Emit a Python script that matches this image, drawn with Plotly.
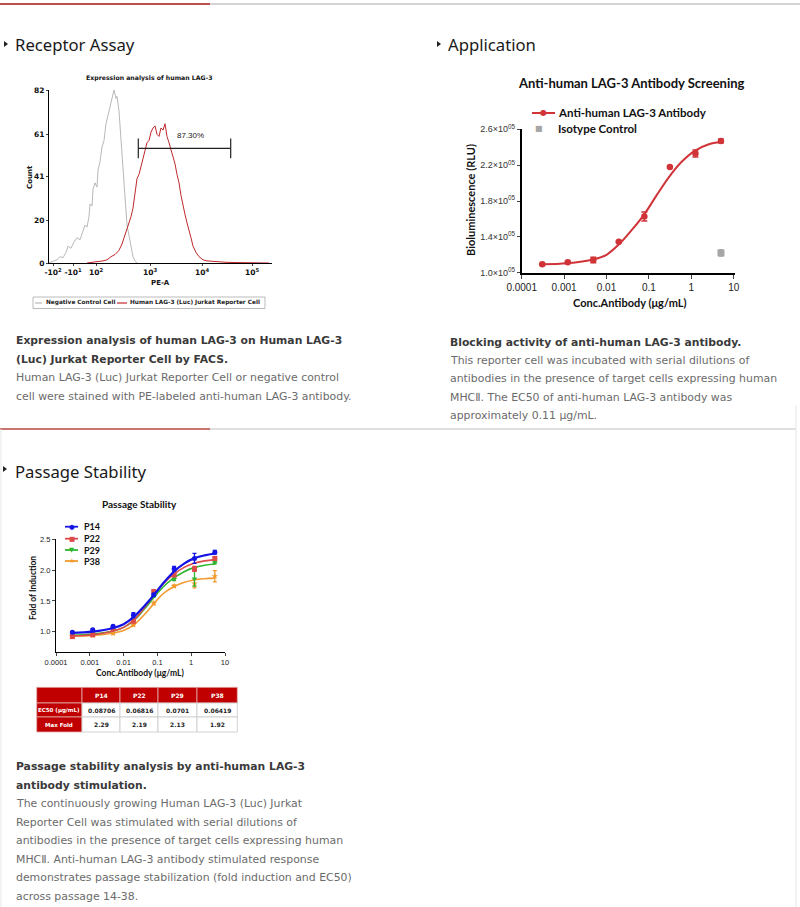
import plotly.graph_objects as go

W, H = 800, 907
def fx(x): return x / W
def fy(y): return 1 - y / H

# ---------------- Data ----------------
# Receptor assay histogram (PE-A display channel vs count)
pe_tick_vals = [4, 24, 47, 101, 153, 203]
pe_tick_text = ['-10<sup>2</sup>', '-10<sup>1</sup>', '10<sup>2</sup>', '10<sup>3</sup>', '10<sup>4</sup>', '10<sup>5</sup>']
count_ticks = [0, 20, 41, 61, 82]
neg_x = [0, 2, 5, 8, 11, 14, 17, 19, 22, 25, 28, 31, 34, 36, 38, 40, 41, 43, 44, 46, 48, 49, 51, 53, 55, 57,
         59, 60, 62, 64, 65, 67, 68, 70, 72, 74, 76, 78, 80, 82, 84, 86, 88]
neg_count = [0, 0.5, 1, 1.5, 3, 2.5, 5, 8, 7, 10, 12, 11, 15, 18, 17, 22, 28, 27, 35, 38, 36, 44, 48, 55, 58, 66,
             70, 72, 76, 80, 82, 78, 79, 72, 58, 42, 28, 18, 13, 7, 3, 1, 0]
pos_x = [38, 45, 50, 54, 58, 62, 66, 70, 73, 76, 78, 80, 82, 84, 86, 88, 90, 92, 94, 96, 98, 100, 102, 104, 106,
         108, 110, 112, 114, 116, 118, 120, 122, 124, 126, 128, 130, 132, 134, 136, 138, 140, 142, 144, 147, 150,
         154, 158, 163, 170, 178, 190, 205, 220]
pos_count = [0, 0.3, 0.5, 1, 1.5, 3, 4, 6, 9, 13, 16, 19, 22, 26, 33, 40, 42, 46, 50, 53, 57, 58, 62, 64, 65,
             61, 60, 64, 63, 66, 60, 57, 54, 51, 47, 42, 38, 32, 27, 23, 19, 16, 12, 8, 5, 3,
             1.5, 1, 0.8, 0.5, 0.3, 0.2, 0, 0]
gate_lo, gate_hi, gate_y, gate_cap = 89.3, 181.7, 54.3, 4.7
gate_pct = '87.30%'

# Application: blocking assay
conc = [0.000305, 0.00122, 0.00488, 0.0195, 0.078, 0.3125, 1.25, 5]
app_y = [1.094e5, 1.116e5, 1.142e5, 1.346e5, 1.626e5, 2.18e5, 2.33e5, 2.47e5]
app_err = [0.008e5, 0.008e5, 0.03e5, 0.01e5, 0.05e5, 0.01e5, 0.04e5, 0.02e5]
curve_x = [0.0003, 0.0012, 0.005, 0.01, 0.02, 0.04, 0.08, 0.15, 0.3, 0.6, 1.2, 2.5, 5]
app_curve = [1.094e5, 1.105e5, 1.15e5, 1.20e5, 1.32e5, 1.48e5, 1.66e5, 1.86e5, 2.07e5, 2.24e5, 2.36e5, 2.43e5, 2.46e5]
iso_x = [5]
iso_y = [1.22e5]
iso_err = [0.035e5]
conc_tick_vals = [0.0001, 0.001, 0.01, 0.1, 1, 10]
conc_tick_text = ['0.0001', '0.001', '0.01', '0.1', '1', '10']
rlu_tick_vals = [1.0e5, 1.4e5, 1.8e5, 2.2e5, 2.6e5]
rlu_tick_text = ['1.0×10<sup>05</sup>', '1.4×10<sup>05</sup>', '1.8×10<sup>05</sup>', '2.2×10<sup>05</sup>', '2.6×10<sup>05</sup>']

# Passage stability
passages = ['P14', 'P22', 'P29', 'P38']
p14 = [0.99, 1.03, 1.09, 1.27, 1.60, 2.02, 2.19, 2.29]
p22 = [0.92, 0.95, 1.05, 1.17, 1.65, 1.92, 2.02, 2.19]
p29 = [0.94, 0.97, 1.05, 1.20, 1.58, 1.85, 1.86, 2.12]
p38 = [0.93, 0.94, 0.97, 1.11, 1.46, 1.74, 1.78, 1.90]
p14_err = [0.01, 0.01, 0.01, 0.04, 0.02, 0.04, 0.08, 0.03]
p22_err = [0.01, 0.01, 0.01, 0.02, 0.03, 0.02, 0.04, 0.03]
p29_err = [0.01, 0.01, 0.01, 0.02, 0.02, 0.02, 0.12, 0.02]
p38_err = [0.01, 0.01, 0.01, 0.02, 0.02, 0.02, 0.07, 0.09]
p14_curve = [0.98, 1.00, 1.06, 1.12, 1.24, 1.41, 1.60, 1.79, 1.97, 2.10, 2.19, 2.24, 2.27]
p22_curve = [0.93, 0.95, 1.01, 1.07, 1.19, 1.38, 1.60, 1.78, 1.93, 2.04, 2.11, 2.15, 2.17]
p29_curve = [0.94, 0.96, 1.01, 1.07, 1.18, 1.36, 1.56, 1.73, 1.87, 1.97, 2.04, 2.08, 2.10]
p38_curve = [0.93, 0.94, 0.98, 1.02, 1.11, 1.27, 1.46, 1.62, 1.73, 1.80, 1.84, 1.86, 1.87]
fold_ticks = [1.0, 1.5, 2.0, 2.5]

# Table
tbl_header = ['', 'P14', 'P22', 'P29', 'P38']
tbl_rows = ['EC50 (μg/mL)', 'Max Fold']
ec50 = ['0.08706', '0.06816', '0.0701', '0.06419']
max_fold = ['2.29', '2.19', '2.13', '1.92']

# ---------------- Figure ----------------
fig = go.Figure()

HIST_RED = '#c0282d'
HIST_GRAY = '#b8b8b8'
fig.add_trace(go.Scatter(x=neg_x, y=neg_count, mode='lines', line=dict(color=HIST_GRAY, width=1),
                         xaxis='x', yaxis='y', showlegend=False, hoverinfo='skip'))
fig.add_trace(go.Scatter(x=pos_x, y=pos_count, mode='lines', line=dict(color=HIST_RED, width=1),
                         xaxis='x', yaxis='y', showlegend=False, hoverinfo='skip'))
fig.add_trace(go.Scatter(x=[gate_lo, gate_hi], y=[gate_y, gate_y], mode='lines', line=dict(color='#222', width=1.2),
                         xaxis='x', yaxis='y', showlegend=False, hoverinfo='skip'))
for gx in (gate_lo, gate_hi):
    fig.add_trace(go.Scatter(x=[gx, gx], y=[gate_y - gate_cap, gate_y + gate_cap], mode='lines',
                             line=dict(color='#222', width=1.2), xaxis='x', yaxis='y', showlegend=False,
                             hoverinfo='skip'))

APP_RED = '#d13438'
fig.add_trace(go.Scatter(x=curve_x, y=app_curve, mode='lines', line=dict(color=APP_RED, width=2, shape='spline'),
                         xaxis='x2', yaxis='y2', showlegend=False, hoverinfo='skip'))
fig.add_trace(go.Scatter(x=conc, y=app_y, mode='markers',
                         marker=dict(color=APP_RED, size=6.5),
                         error_y=dict(type='data', array=app_err, color=APP_RED, thickness=1.5, width=3),
                         xaxis='x2', yaxis='y2', showlegend=False, cliponaxis=False))
fig.add_trace(go.Scatter(x=iso_x, y=iso_y, mode='markers',
                         marker=dict(color='#a6a6a6', size=7, symbol='square'),
                         error_y=dict(type='data', array=iso_err, color='#a6a6a6', thickness=1.5, width=2),
                         xaxis='x2', yaxis='y2', showlegend=False, cliponaxis=False))

PCOL = ['#1414e6', '#dd4a4a', '#2fb52f', '#f39a2e']
PSYM = ['circle', 'square', 'triangle-down', 'star']
series = [(p14, p14_err, p14_curve), (p22, p22_err, p22_curve), (p29, p29_err, p29_curve), (p38, p38_err, p38_curve)]
for i in [3, 2, 1, 0]:
    vals, errs, cur = series[i]
    fig.add_trace(go.Scatter(x=curve_x, y=cur, mode='lines', line=dict(color=PCOL[i], width=1.6 if i else 2.2, shape='spline'),
                             xaxis='x3', yaxis='y3', showlegend=False, hoverinfo='skip'))
    fig.add_trace(go.Scatter(x=conc, y=vals, mode='markers', marker=dict(color=PCOL[i], size=5, symbol=PSYM[i]),
                             error_y=dict(type='data', array=errs, color=PCOL[i], thickness=1.3, width=2),
                             xaxis='x3', yaxis='y3', showlegend=False, cliponaxis=False, name=passages[i]))

axis_common = dict(showgrid=False, zeroline=False, showline=True, linecolor='black', ticks='outside')
fig.update_layout(
    width=W, height=H, margin=dict(l=0, r=0, t=0, b=0, pad=0, autoexpand=False),
    plot_bgcolor='white', paper_bgcolor='white', showlegend=False,
    xaxis=dict(axis_common, domain=[fx(49), fx(272)], range=[0, 223], anchor='y', linewidth=1.2, ticklen=2,
               tickvals=pe_tick_vals, ticktext=pe_tick_text,
               tickfont=dict(size=7.5, family='DejaVu Sans', color='#111', weight='bold')),
    yaxis=dict(axis_common, domain=[fy(263), fy(90)], range=[0, 82], anchor='x', linewidth=1.2, ticklen=2,
               tickvals=count_ticks, tickfont=dict(size=7.5, family='DejaVu Sans', color='#111', weight='bold')),
    xaxis2=dict(axis_common, type='log', domain=[fx(521.7), fx(735)], range=[-4, 1.03], anchor='y2', linewidth=1.6,
                ticklen=4, tickvals=conc_tick_vals, ticktext=conc_tick_text,
                tickfont=dict(size=10, family='Liberation Sans', color='#222')),
    yaxis2=dict(axis_common, domain=[fy(272.7), fy(129.3)], range=[1.0e5, 2.6e5], anchor='x2', linewidth=1.6,
                ticklen=3, tickvals=rlu_tick_vals, ticktext=rlu_tick_text,
                tickfont=dict(size=9, family='Liberation Sans', color='#333')),
    xaxis3=dict(axis_common, type='log', domain=[fx(56), fx(225)], range=[-4, 1], anchor='y3', linewidth=1.3,
                ticklen=3, tickvals=conc_tick_vals, ticktext=conc_tick_text,
                tickfont=dict(size=7.5, family='Liberation Sans', color='#222')),
    yaxis3=dict(axis_common, domain=[fy(651.7), fy(539.3)], range=[0.675, 2.5], anchor='x3', linewidth=1.3,
                ticklen=3, tickvals=fold_ticks, tickformat='.1f',
                tickfont=dict(size=7.5, family='Liberation Sans', color='#222')),
)

shapes = []
ann = []
def hline(x0, x1, y, color, w):
    shapes.append(dict(type='line', xref='paper', yref='paper', x0=fx(x0), x1=fx(x1), y0=fy(y), y1=fy(y),
                       line=dict(color=color, width=w)))
def vline(x, y0, y1, color, w):
    shapes.append(dict(type='line', xref='paper', yref='paper', x0=fx(x), x1=fx(x), y0=fy(y0), y1=fy(y1),
                       line=dict(color=color, width=w)))
def rect(x0, x1, y0, y1, fill, line_color, w=1):
    shapes.append(dict(type='rect', xref='paper', yref='paper', x0=fx(x0), x1=fx(x1), y0=fy(y1), y1=fy(y0),
                       fillcolor=fill, line=dict(color=line_color, width=w)))
def tri(x, y):
    path = 'M %f %f L %f %f L %f %f Z' % (fx(x), fy(y - 3), fx(x), fy(y + 3), fx(x + 4), fy(y))
    shapes.append(dict(type='path', xref='paper', yref='paper', path=path, fillcolor='#222', line=dict(width=0)))
def text(x, y, s, size, color='#222', family='DejaVu Sans', bold=False, xanchor='left', yanchor='middle', angle=0):
    ann.append(dict(xref='paper', yref='paper', x=fx(x), y=fy(y), text=s, showarrow=False, xanchor=xanchor,
                    yanchor=yanchor, textangle=angle,
                    font=dict(size=size, color=color, family=family, weight='bold' if bold else 'normal')))

SEC_RED = '#c0504d'
SEC_GRAY = '#d4d4d4'
hline(0, 800, 4, SEC_GRAY, 2)
hline(0, 210, 4, SEC_RED, 2)
hline(0, 796, 429, SEC_GRAY, 1.5)
hline(0, 210, 429, SEC_RED, 1.5)
vline(1, 429, 907, '#e6e6e6', 1)
vline(796, 405, 907, '#e6e6e6', 1)
tri(4, 44)
tri(437, 44)
tri(3, 469)

# Table (drawn as cells)
TRED = '#c00000'
col_edges = [36.7, 82, 120, 158, 197, 237.3]
row_edges = [687.3, 703, 717, 732]
table_rows = [tbl_header, [tbl_rows[0]] + ec50, [tbl_rows[1]] + max_fold]
for r in range(3):
    for c in range(5):
        is_red = (r == 0 or c == 0)
        rect(col_edges[c], col_edges[c + 1], row_edges[r], row_edges[r + 1],
             TRED if is_red else 'white', '#e0b0b0' if is_red else '#c8c8c8', 0.8)
for r in range(3):
    for c in range(5):
        s = table_rows[r][c]
        if not s:
            continue
        is_red = (r == 0 or c == 0)
        text((col_edges[c] + col_edges[c + 1]) / 2, (row_edges[r] + row_edges[r + 1]) / 2, s,
             5.5 if c == 0 else 6, 'white' if is_red else '#222', 'DejaVu Sans', True, 'center')

# histogram legend box
rect(33, 265, 297, 308.5, 'rgba(0,0,0,0)', '#aaaaaa', 0.8)
hline(35, 42, 303, HIST_GRAY, 1.2)
hline(117, 127, 303, HIST_RED, 1.2)
# application legend sample
hline(532, 555, 113, APP_RED, 2)
# passage legend samples
leg_y = [526.7, 538.7, 550, 561]
for i in range(4):
    hline(65, 78, leg_y[i], PCOL[i], 1.8)

# Headings
text(13, 45, 'Receptor Assay', 16.7, '#1a1a1a', 'Noto Sans')
text(446, 45, 'Application', 16.7, '#1a1a1a', 'Noto Sans')
text(13, 471, 'Passage Stability', 16.7, '#1a1a1a', 'Noto Sans')

# Histogram texts
text(149, 78, 'Expression analysis of human LAG-3', 6.2, '#111', 'DejaVu Sans', True, 'center')
text(30, 177, 'Count', 7, '#111', 'DejaVu Sans', True, 'center', angle=-90)
text(160, 283, 'PE-A', 7, '#111', 'DejaVu Sans', True, 'center')
ann.append(dict(xref='x', yref='y', x=141, y=60.5, text=gate_pct, showarrow=False,
                font=dict(size=8, color='#222', family='Liberation Sans')))
text(44, 303, 'Negative Control Cell', 5.8, '#222', 'DejaVu Sans', True)
text(128, 303, 'Human LAG-3 (Luc) Jurkat Reporter Cell', 5.8, '#222', 'DejaVu Sans', True)

# Application texts
text(631, 83, 'Anti-human LAG-3 Antibody Screening', 13, '#111', 'Lato', True, 'center')
text(630, 302, 'Conc.Antibody (μg/mL)', 11, '#111', 'Lato', True, 'center')
text(470, 200, 'Bioluminescence (RLU)', 11, '#111', 'Lato', True, 'center', angle=-90)
text(543.5, 113, '●', 8, APP_RED, 'DejaVu Sans', False, 'center')
text(539.3, 128.3, '■', 8, '#a6a6a6', 'DejaVu Sans', False, 'center')
text(556, 113, 'Anti-human LAG-3 Antibody', 11.5, '#111', 'Lato', True)
text(556, 128.3, 'Isotype Control', 11.5, '#111', 'Lato', True)

# Passage chart texts
text(139, 504, 'Passage Stability', 10, '#111', 'Lato', True, 'center')
text(140, 673, 'Conc.Antibody (μg/mL)', 8.5, '#111', 'Lato', True, 'center')
text(33, 588, 'Fold of Induction', 8.5, '#111', 'Lato', True, 'center', angle=-90)
glyphs = ['●', '■', '▼', '★']
for i in range(4):
    text(71.5, leg_y[i], glyphs[i], 6.5, PCOL[i], 'DejaVu Sans', False, 'center')
    text(82, leg_y[i], passages[i], 9, '#111', 'Lato', True)

# Captions
BOLD_C = '#3a3a3a'
GRAY_C = '#6b6b6b'
CAP_F = 'DejaVu Sans'
BS, GS = 10.8, 10.9
cap1_bold = ['Expression analysis of human LAG-3 on Human LAG-3', '(Luc) Jurkat Reporter Cell by FACS.']
cap1_text = ['Human LAG-3 (Luc) Jurkat Reporter Cell or negative control',
             'cell were stained with PE-labeled anti-human LAG-3 antibody.']
for s, y in zip(cap1_bold, [340.7, 359.3]):
    text(14, y, s, BS, BOLD_C, CAP_F, True)
for s, y in zip(cap1_text, [377.5, 396]):
    text(14, y, s, GS, GRAY_C, CAP_F)

cap2_bold = ['Blocking activity of anti-human LAG-3 antibody.']
cap2_text = ['This reporter cell was incubated with serial dilutions of',
             'antibodies in the presence of target cells expressing human',
             'MHCⅡ. The EC50 of anti-human LAG-3 antibody was',
             'approximately 0.11 μg/mL.']
text(448, 342.7, cap2_bold[0], BS, BOLD_C, CAP_F, True)
for s, y in zip(cap2_text, [360.7, 379, 397, 415.5]):
    text(448, y, s, GS, GRAY_C, CAP_F)

cap3_bold = ['Passage stability analysis by anti-human LAG-3', 'antibody stimulation.']
cap3_text = ['The continuously growing Human LAG-3 (Luc) Jurkat',
             'Reporter Cell was stimulated with serial dilutions of',
             'antibodies in the presence of target cells expressing human',
             'MHCⅡ. Anti-human LAG-3 antibody stimulated response',
             'demonstrates passage stabilization (fold induction and EC50)',
             'across passage 14-38.']
for s, y in zip(cap3_bold, [766.7, 785.3]):
    text(14, y, s, BS, BOLD_C, CAP_F, True)
for s, y in zip(cap3_text, [803.5, 822, 840.7, 859, 877.5, 896]):
    text(14, y, s, GS, GRAY_C, CAP_F)

fig.update_layout(shapes=shapes, annotations=ann)
fig.write_html('out.html', config={'displayModeBar': False},
               post_script="document.body.style.margin='0';document.body.style.padding='0';"
                           "document.documentElement.style.overflow='hidden';")
